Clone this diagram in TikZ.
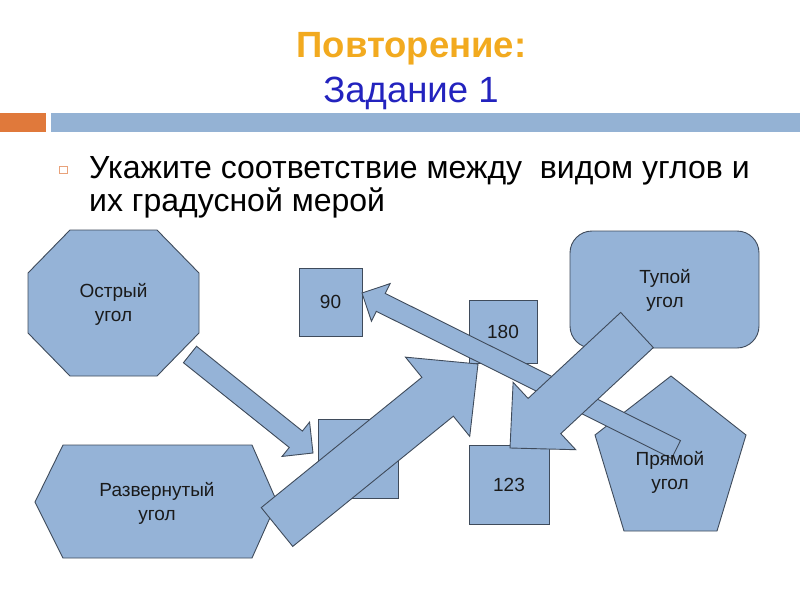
\documentclass[tikz,border=0pt]{standalone}
\usepackage{fontspec}
\setmainfont{Liberation Sans}
\usetikzlibrary{calc}
\definecolor{shapefill}{HTML}{95B3D7}
\definecolor{shapeline}{HTML}{3F4B5B}
\definecolor{barorange}{HTML}{E0793B}
\definecolor{barblue}{HTML}{94B2D4}
\definecolor{titleorange}{HTML}{F2AA1F}
\definecolor{titleblue}{HTML}{2323BE}
\definecolor{bulletorange}{HTML}{E9A27A}
\definecolor{textdark}{HTML}{1A1A1A}
\tikzset{
  figshape/.style={fill=shapefill, draw=shapeline, line width=0.9pt, line join=miter},
  figlabel/.style={text=textdark, font=\fontsize{19}{24}\selectfont, align=center, inner sep=0pt},
}
% block arrow: name, tail, tip, shaft half width, head half width, head length
\newcommand\blockarrow[6]{%
  \coordinate (#1h) at ($(#3)!#6!(#2)$);
  \draw[figshape] ($(#2)!#4!90:(#3)$) -- ($(#1h)!#4!90:(#3)$) -- ($(#1h)!#5!90:(#3)$) -- (#3)
     -- ($(#1h)!#5!-90:(#3)$) -- ($(#1h)!#4!-90:(#3)$) -- ($(#2)!#4!-90:(#3)$) -- cycle;}
\begin{document}
\begin{tikzpicture}[x=1pt,y=-1pt]
\useasboundingbox (0,0) rectangle (800,600);
\fill[white] (0,0) rectangle (800,600);
% title
\node[anchor=base, inner sep=0pt, text=titleorange, font=\fontsize{36.5}{40}\bfseries\selectfont] (title) at (411.5,57) {Повторение:};
\node[anchor=base, inner sep=0pt, text=titleblue, font=\fontsize{36.5}{40}\selectfont] (subtitle) at (411,102) {Задание 1};
% bars
\fill[barorange] (0,113) rectangle (46,132);
\fill[barblue] (51,113) rectangle (800,132);
% bullet
\draw[bulletorange, line width=0.7pt] (59.5,166) rectangle (67,173.5);
\node[anchor=base west, inner sep=0pt, text=black, font=\fontsize{32}{38}\selectfont] (line1) at (89,178) {Укажите соответствие между\ \ видом углов и};
\node[anchor=base west, inner sep=0pt, text=black, font=\fontsize{32}{38}\selectfont] (line2) at (89,211) {их градусной мерой};
% shapes
\draw[figshape] (70,230) -- (157,230) -- (199,273) -- (199,333) -- (157,376) -- (70,376) -- (28,333) -- (28,273) -- cycle;
\draw[figshape] (63,445) -- (252,445) -- (277,502) -- (252,558) -- (63,558) -- (35,502) -- cycle;
\node[figshape, figlabel, minimum width=63pt, minimum height=68pt] (b90) at (330.5,302) {90};
\node[figshape, minimum width=80pt, minimum height=79pt] (b45) at (358,458.5) {};
\node[figshape, figlabel, minimum width=68pt, minimum height=63pt] (b180) at (503,331.5) {180};
\node[figshape, figlabel, minimum width=80pt, minimum height=79pt] (b123) at (509,484.5) {123};
\draw[figshape, rounded corners=22pt] (570,231) rectangle (759,348);
\draw[figshape] (671,376) -- (746,435) -- (717,531) -- (624,531) -- (595,435) -- cycle;
% arrow end points
\coordinate (a1t) at (190,354.5); \coordinate (a1h) at (313,453);
\coordinate (a2t) at (277,527);   \coordinate (a2h) at (478,364);
\coordinate (a3t) at (676,449.5); \coordinate (a3h) at (362,293);
\coordinate (a4t) at (637,330);   \coordinate (a4h) at (510,448);
\blockarrow{aa}{a1t}{a1h}{10.5pt}{22pt}{22pt}
\blockarrow{ac}{a3t}{a3h}{10pt}{21pt}{21pt}
\blockarrow{ab}{a2t}{a2h}{25pt}{51pt}{52pt}
\blockarrow{ad}{a4t}{a4h}{24pt}{46pt}{47pt}
% labels
\node[figlabel] (acute) at (113.5,304.5) {Острый\\угол};
\node[figlabel] (straight) at (157,503) {Развернутый\\угол};
\node[figlabel] (obtuse) at (665,290.5) {Тупой\\угол};
\node[figlabel] (right) at (670,472.5) {Прямой\\угол};
\end{tikzpicture}
\end{document}
